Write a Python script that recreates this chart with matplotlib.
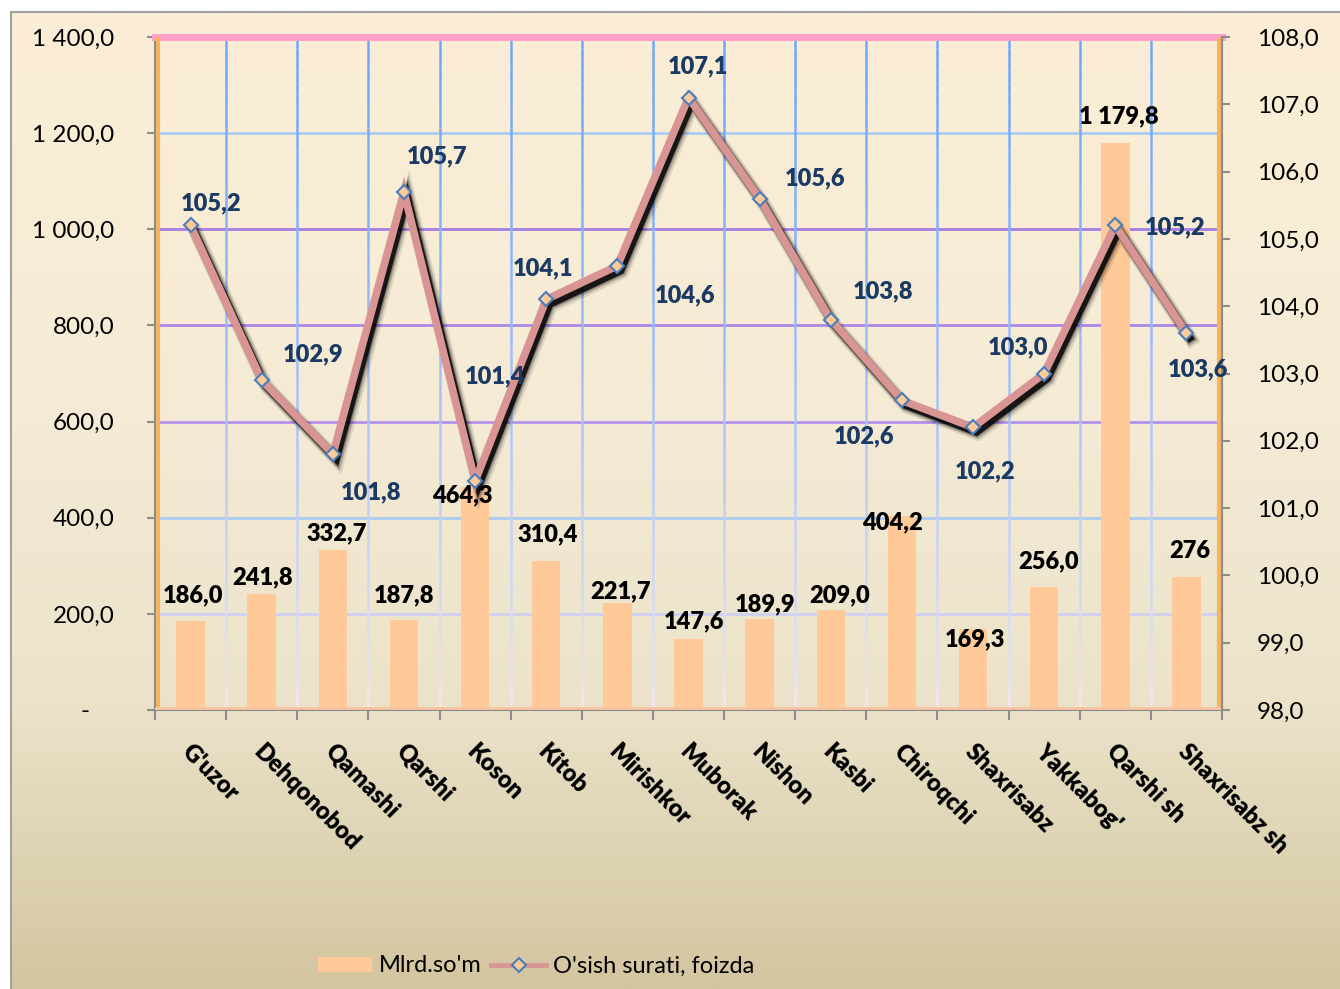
import numpy as np
import matplotlib.pyplot as plt
from matplotlib import patheffects as pe
from matplotlib.collections import LineCollection
from matplotlib.colors import LinearSegmentedColormap, to_rgb
from matplotlib.lines import Line2D
from matplotlib.patches import Patch
from matplotlib.ticker import FuncFormatter

plt.rcParams['font.family'] = ['Lato', 'DejaVu Sans']

districts = ["G'uzor", "Dehqonobod", "Qamashi", "Qarshi", "Koson", "Kitob",
             "Mirishkor", "Muborak", "Nishon", "Kasbi", "Chiroqchi",
             "Shaxrisabz", "Yakkabog'", "Qarshi sh", "Shaxrisabz sh"]
# the last one is shown without decimals in the source
volume = [186.0, 241.8, 332.7, 187.8, 464.3, 310.4, 221.7, 147.6, 189.9,
          209.0, 404.2, 169.3, 256.0, 1179.8, 276]
growth = [105.2, 102.9, 101.8, 105.7, 101.4, 104.1, 104.6, 107.1, 105.6,
          103.8, 102.6, 102.2, 103.0, 105.2, 103.6]

# label offsets in pixels (dx, dy up)
growth_off = [(21, 22), (51, 26), (38, -38), (33, 35), (20, 105), (-3, 31),
              (68, -29), (9, 31), (55, 20), (52, 28), (-38, -36), (12, -44),
              (-26, 26), (60, -2), (12, -36)]
volume_off = [(2, 25), (1, 16), (4, 17), (0, 24), (-13, -9), (2, 26),
              (3, 12), (5, 18), (5, 14), (9, 14), (-9, -7), (2, -11),
              (4, 26), (4, 27), (3, 26)]

BAR = '#FFCA98'
LINE = '#D99594'
NAVY = '#1B3A63'
PX = 0.72  # points per pixel at dpi 100
FS = 17


def num(v, dec=1):
    s = f"{v:,.{dec}f}"
    return s.replace(',', ' ').replace('.', ',')


fig = plt.figure(figsize=(13.4, 9.89), dpi=100)

# background gradient + border
bg = fig.add_axes([0, 0, 1, 1], zorder=-10)
bg.set_xlim(0, 1340)
bg.set_ylim(989, 0)
bg.axis('off')
stops = [(0.0, '#FCEED5'), (0.40, '#F5EBD6'), (0.70, '#ECE3CA'),
         (0.81, '#E2D9BC'), (1.0, '#D3C59F')]
cmap = LinearSegmentedColormap.from_list('bg', stops)
grad = np.linspace(0, 1, 400).reshape(-1, 1)
bg.imshow(grad, cmap=cmap, aspect='auto', extent=(11, 1340, 989, 12))
bg.plot([11, 11], [989, 12], color='#A0A0A0', lw=1.5)
bg.plot([11, 1340], [12, 12], color='#A0A0A0', lw=1.5)

L, R, T, B = 155, 1222, 37, 710
ax = fig.add_axes([L / 1340, 1 - B / 989, (R - L) / 1340, (B - T) / 989])
ax.patch.set_alpha(0)
x = np.arange(len(districts))
ax.set_xlim(-0.5, len(districts) - 0.5)
ax.set_ylim(0, 1400)

# horizontal gridlines
hcolors = {200: '#CFD0F4', 400: '#AACCF2', 600: '#B391EC', 800: '#AC86EA',
           1000: '#A67EE6', 1200: '#A9CDF4'}
for yv, c in hcolors.items():
    ax.axhline(yv, color=c, lw=2, zorder=1)
ax.axhline(1400, color='#FF9FC8', lw=5, zorder=3, clip_on=False)

# vertical gridlines fading toward the bottom
top_c = np.array(to_rgb('#6CA6FF'))
bot_c = np.array(to_rgb('#EEE6F4'))
ys = np.linspace(1400, 0, 60)
segs, cols = [], []
for xb in np.arange(0.5, len(districts) - 0.5, 1):
    for i in range(len(ys) - 1):
        segs.append([(xb, ys[i]), (xb, ys[i + 1])])
        t = (i / (len(ys) - 2)) ** 1.3
        cols.append(top_c * (1 - t) + bot_c * t)
ax.add_collection(LineCollection(segs, colors=cols, lw=1.8, zorder=1))

ax.bar(x, volume, width=0.4, color=BAR, zorder=2)

# inner coloured edges
ax.plot([0.003, 0.003], [0, 1], transform=ax.transAxes, color='#F7B45E', lw=3, zorder=3)
ax.plot([0.997, 0.997], [0, 1], transform=ax.transAxes, color='#F7B45E', lw=3, zorder=3)
ax.plot([0, 1], [0.003, 0.003], transform=ax.transAxes, color='#F9C4A0', lw=2, zorder=3)

for s in ax.spines.values():
    s.set_color('#8C8C8C')
    s.set_linewidth(1.5)
ax.spines['top'].set_visible(False)

ax.set_yticks(np.arange(0, 1401, 200))
ax.yaxis.set_major_formatter(FuncFormatter(lambda v, p: num(v) if v else '-    '))
ax.tick_params(axis='y', length=6, width=1.5, color='#8C8C8C', labelsize=17.5, pad=23)

ax.set_xticks(np.arange(-0.5, len(districts), 1))
ax.set_xticklabels([])
ax.tick_params(axis='x', length=7, width=1.5, color='#8C8C8C')

for i, name in enumerate(districts):
    ax.annotate(name, (x[i], 0), xycoords=('data', 'axes fraction'),
                xytext=(3 * PX, -30 * PX), textcoords='offset points',
                rotation=-45, rotation_mode='anchor', ha='left', va='top',
                fontsize=FS, fontweight='heavy')

for i, v in enumerate(volume):
    txt = num(v) if isinstance(v, float) else str(v)
    dx, dy = volume_off[i]
    ax.annotate(txt, (x[i], v), xytext=(dx * PX, dy * PX), textcoords='offset points',
                ha='center', va='center', fontsize=FS, fontweight='heavy',
                color='black', zorder=6)

ax2 = ax.twinx()
ax2.set_ylim(98, 108)
ax2.set_yticks(np.arange(98, 108.1, 1))
ax2.yaxis.set_major_formatter(FuncFormatter(lambda v, p: num(v)))
ax2.tick_params(axis='y', length=6, width=1.5, color='#8C8C8C', labelsize=17.5, pad=19)
for s in ax2.spines.values():
    s.set_visible(False)
ax2.spines['right'].set_visible(True)
ax2.spines['right'].set_color('#8C8C8C')
ax2.spines['right'].set_linewidth(1.5)

shadow = [pe.SimpleLineShadow(offset=(3.5, -4.5), shadow_color='black', alpha=0.1, linewidth=10),
          pe.SimpleLineShadow(offset=(3, -4), shadow_color='black', alpha=0.2, linewidth=8),
          pe.SimpleLineShadow(offset=(2.5, -3.5), shadow_color='black', alpha=0.35, linewidth=6.5),
          pe.SimpleLineShadow(offset=(2.5, -3.5), shadow_color='black', alpha=0.8, linewidth=5),
          pe.Normal()]
ax2.plot(x, growth, color=LINE, lw=5.5, solid_joinstyle='miter', zorder=4,
         path_effects=shadow)
ax2.plot(x, growth, ls='none', marker='D', ms=7, mfc=BAR, mec='#4A7EBB',
         mew=1.5, zorder=5)

for i, v in enumerate(growth):
    dx, dy = growth_off[i]
    ax2.annotate(num(v), (x[i], v), xytext=(dx * PX, dy * PX), textcoords='offset points',
                 ha='center', va='center', fontsize=FS, fontweight='heavy',
                 color=NAVY, zorder=6)

handles = [Patch(facecolor=BAR, edgecolor='none'),
           Line2D([], [], color=LINE, lw=3.5, marker='D', ms=7, mfc=BAR,
                  mec='#4A7EBB', mew=1.5)]
fig.legend(handles, ["Mlrd.so'm", "O'sish surati, foizda"], loc='center',
           bbox_to_anchor=(536 / 1340, 1 - 966 / 989), ncol=2, frameon=False,
           fontsize=17, handlelength=2.3, handleheight=0.6, columnspacing=0.4,
           handletextpad=0.3)

fig.savefig('out.png', dpi=100)
